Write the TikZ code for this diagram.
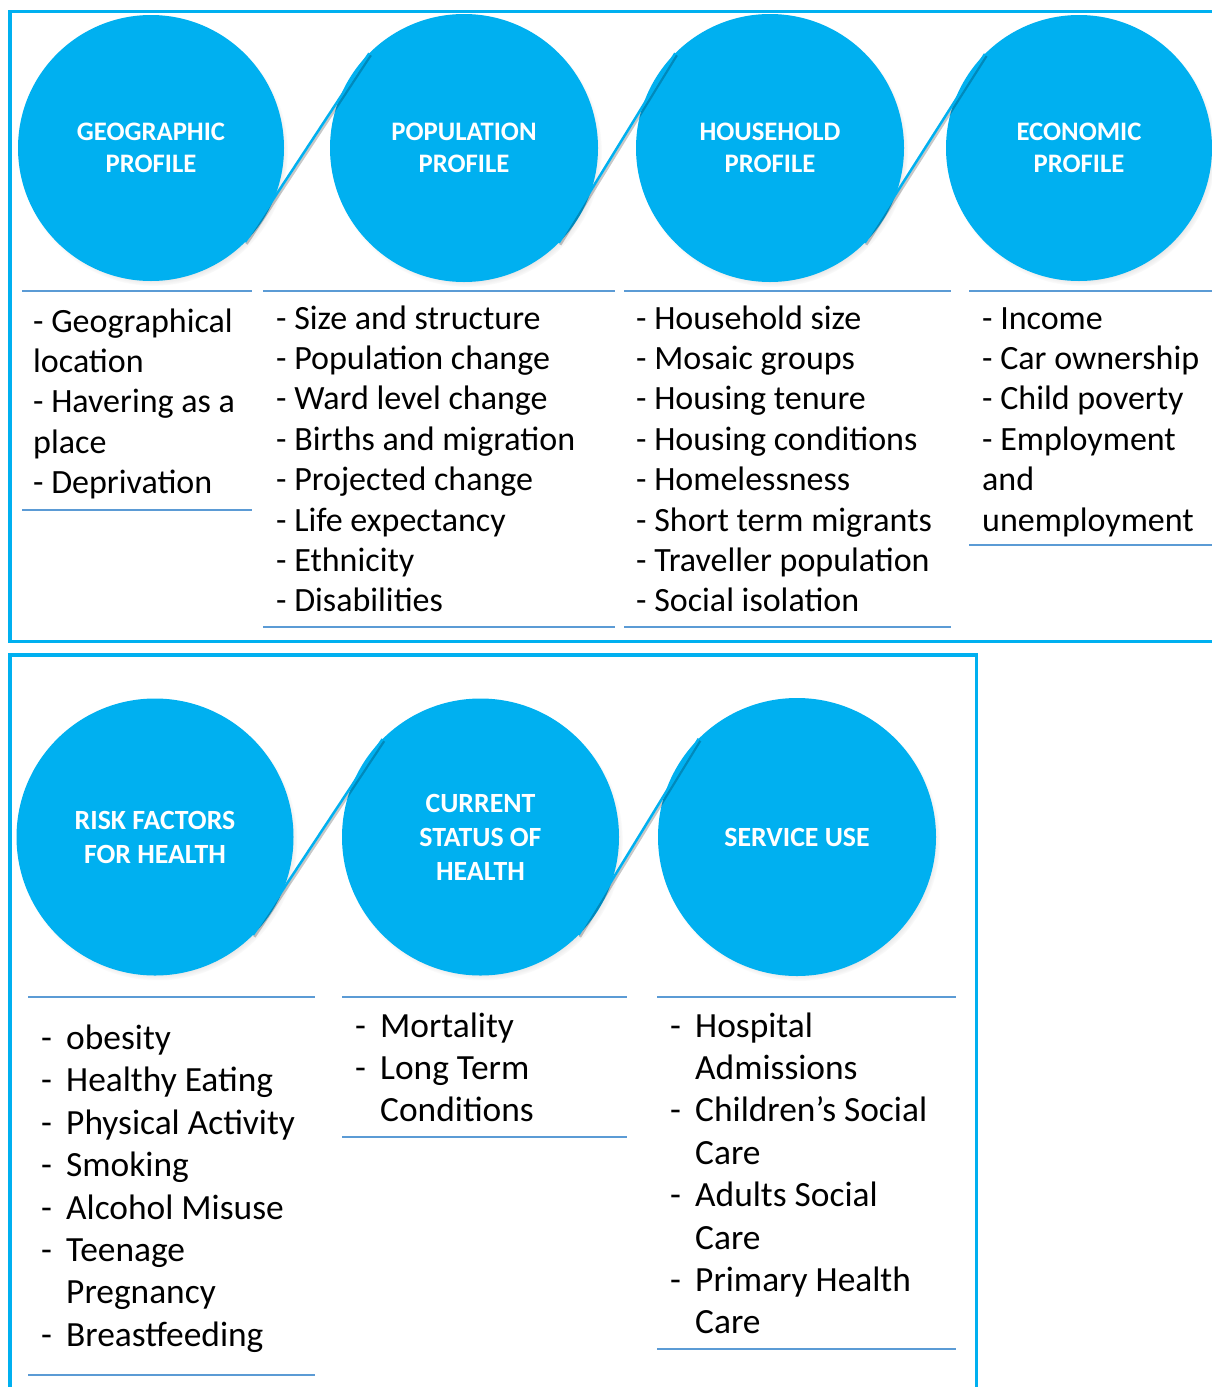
\documentclass[tikz,border=0pt]{standalone}
\usepackage{fontspec}
\setmainfont{Carlito}
\usetikzlibrary{shadows}
\definecolor{cyanA}{HTML}{00B0F0}
\definecolor{sepblue}{HTML}{5B9BD5}
\begin{document}
\begin{tikzpicture}[x=1pt,y=-1pt,
  frame/.style={draw=cyanA, line width=3.5pt},
  circ/.style={circle, fill=cyanA, inner sep=0pt, outer sep=0pt, text=white, align=center,
    circular drop shadow={shadow scale=1.01, shadow xshift=2.5pt, shadow yshift=-3.5pt, opacity=0.55}},
  toptitle/.style={font=\fontsize{26.7}{32}\selectfont\bfseries},
  bottitle/.style={font=\fontsize{27.8}{34}\selectfont\bfseries},
  conn/.style={draw=cyanA, line width=2.5pt,
    preaction={draw=black, opacity=0.22, line width=2.5pt, transform canvas={shift={(1.5pt,-2pt)}}}},
  sep/.style={draw=sepblue, line width=1.8pt},
  topitem/.style={anchor=base west, inner sep=0pt, font=\fontsize{34}{40}\selectfont},
  botitem/.style={anchor=base west, inner sep=0pt, font=\fontsize{35.4}{42}\selectfont},
]
\useasboundingbox (0,0) rectangle (1212,1387);
\clip (0,0) rectangle (1212,1387);
\fill[white] (0,0) rectangle (1212,1387);

% frames
\draw[frame] (10,11.3) rectangle (1230,641.5);
\draw[frame] (10,655) rectangle (976.5,1410);

% top circles
\node[circ, toptitle, minimum size=266pt] (geo) at (151,148) {GEOGRAPHIC\\PROFILE};
\node[circ, toptitle, minimum size=268pt] (pop) at (464,148) {POPULATION\\PROFILE};
\node[circ, toptitle, minimum size=268pt] (house) at (770,148) {HOUSEHOLD\\PROFILE};
\node[circ, toptitle, minimum size=266pt] (econ) at (1079,148) {ECONOMIC\\PROFILE};

\draw[conn] (geo.-45) -- (pop.135);
\draw[conn] (pop.-45) -- (house.135);
\draw[conn] (house.-45) -- (econ.135);

% bottom circles
\node[circ, bottitle, minimum size=277pt] (risk) at (155,837) {RISK FACTORS\\FOR HEALTH};
\node[circ, bottitle, minimum size=277pt] (cur) at (480.5,837) {CURRENT\\STATUS OF\\HEALTH};
\node[circ, bottitle, minimum size=278pt] (serv) at (797,837) {SERVICE USE};

\draw[conn] (risk.-45) -- (cur.135);
\draw[conn] (cur.-45) -- (serv.135);

% separators top
\draw[sep] (22,291) -- (252,291);
\draw[sep] (263,291) -- (615,291);
\draw[sep] (624,291) -- (951,291);
\draw[sep] (969,291) -- (1212,291);
\draw[sep] (22,510) -- (252,510);
\draw[sep] (263,627) -- (615,627);
\draw[sep] (624,627) -- (951,627);
\draw[sep] (969,545) -- (1212,545);
% separators bottom
\draw[sep] (28,997) -- (315,997);
\draw[sep] (342,997) -- (627,997);
\draw[sep] (657,997) -- (956,997);
\draw[sep] (28,1375) -- (315,1375);
\draw[sep] (342,1137) -- (627,1137);
\draw[sep] (657,1349) -- (956,1349);

% top lists
\foreach \t [count=\i from 0] in {- Geographical, location, - Havering as a, place, - Deprivation}
  \node[topitem] (geo-\i) at (33,332+40.4*\i) {\t};
\foreach \t [count=\i from 0] in {- Size and structure, - Population change, - Ward level change,
   - Births and migration, - Projected change, - Life expectancy, - Ethnicity, - Disabilities}
  \node[topitem] (pop-\i) at (276,329+40.4*\i) {\t};
\foreach \t [count=\i from 0] in {- Household size, - Mosaic groups, - Housing tenure,
   - Housing conditions, - Homelessness, - Short term migrants, - Traveller population, - Social isolation}
  \node[topitem] (house-\i) at (636,329+40.4*\i) {\t};
\foreach \t [count=\i from 0] in {- Income, - Car ownership, - Child poverty, - Employment, and, unemployment}
  \node[topitem] (econ-\i) at (982,329+40.4*\i) {\t};

% bottom lists (hanging dash)
\foreach \t/\d [count=\i from 0] in {obesity/1, Healthy Eating/1, Physical Activity/1, Smoking/1,
   Alcohol Misuse/1, Teenage/1, Pregnancy/0, Breastfeeding/1}{
  \node[botitem] (risk-\i) at (66,1049.5+42.4*\i) {\t};
  \ifnum\d=1 \node[botitem] (riskd-\i) at (41,1049.5+42.4*\i) {-};\fi
}
\foreach \t/\d [count=\i from 0] in {Mortality/1, Long Term/1, Conditions/0}{
  \node[botitem] (cur-\i) at (380,1037+42.4*\i) {\t};
  \ifnum\d=1 \node[botitem] (curd-\i) at (355,1037+42.4*\i) {-};\fi
}
\foreach \t/\d [count=\i from 0] in {Hospital/1, Admissions/0, Children’s Social/1, Care/0,
   Adults Social/1, Care/0, Primary Health/1, Care/0}{
  \node[botitem] (serv-\i) at (695,1037+42.4*\i) {\t};
  \ifnum\d=1 \node[botitem] (servd-\i) at (670,1037+42.4*\i) {-};\fi
}
\end{tikzpicture}
\end{document}
